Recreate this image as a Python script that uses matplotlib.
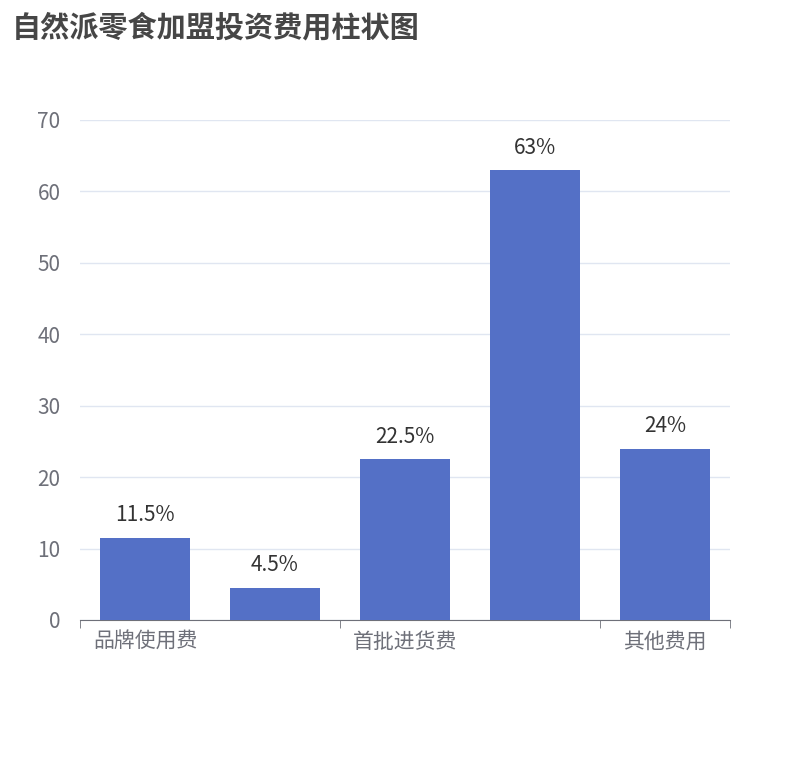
import matplotlib
matplotlib.use("Agg")
import matplotlib.pyplot as plt

plt.rcParams['font.family'] = ['Noto Sans CJK SC', 'DejaVu Sans']

categories = ['品牌使用费', '保证金', '首批进货费', '装修费用', '其他费用']
values = [11.5, 4.5, 22.5, 63, 24]
labels = ['11.5%', '4.5%', '22.5%', '63%', '24%']
yticks = [0, 10, 20, 30, 40, 50, 60, 70]

fig = plt.figure(figsize=(8.1, 7.6), dpi=100)
ax = fig.add_axes([80/810, 1-620/760, 650/810, 500/760])
x = range(len(categories))
ax.bar(x, values, width=0.69, color='#5470c6', zorder=3)
for i, (v, l) in enumerate(zip(values, labels)):
    ax.text(i, v + 1.6, l, ha='center', va='bottom', fontsize=15, color='#333333')
ax.set_xlim(-0.5, len(categories) - 0.5)
ax.set_ylim(0, 70)
ax.set_yticks(yticks)
ax.grid(axis='y', color='#e0e6f1', linewidth=1, zorder=0)
ax.set_xticks(list(x))
ax.set_xticklabels([c if i % 2 == 0 else '' for i, c in enumerate(categories)])
ax.set_xticks([-0.5, 1.5, 3.5, 4.5], minor=True)
ax.tick_params(axis='x', which='major', length=0, labelsize=15, labelcolor='#6e7079', pad=8)
ax.tick_params(axis='x', which='minor', length=6, color='#6e7079')
ax.tick_params(axis='y', length=0, labelsize=15, labelcolor='#6e7079', pad=14)
for s in ['top', 'right', 'left']:
    ax.spines[s].set_visible(False)
ax.spines['bottom'].set_color('#6e7079')
fig.text(12/810, 1-27/760, '自然派零食加盟投资费用柱状图', fontsize=21, fontweight='bold',
         color='#464646', va='center', ha='left')
fig.savefig('out.png', dpi=100)
